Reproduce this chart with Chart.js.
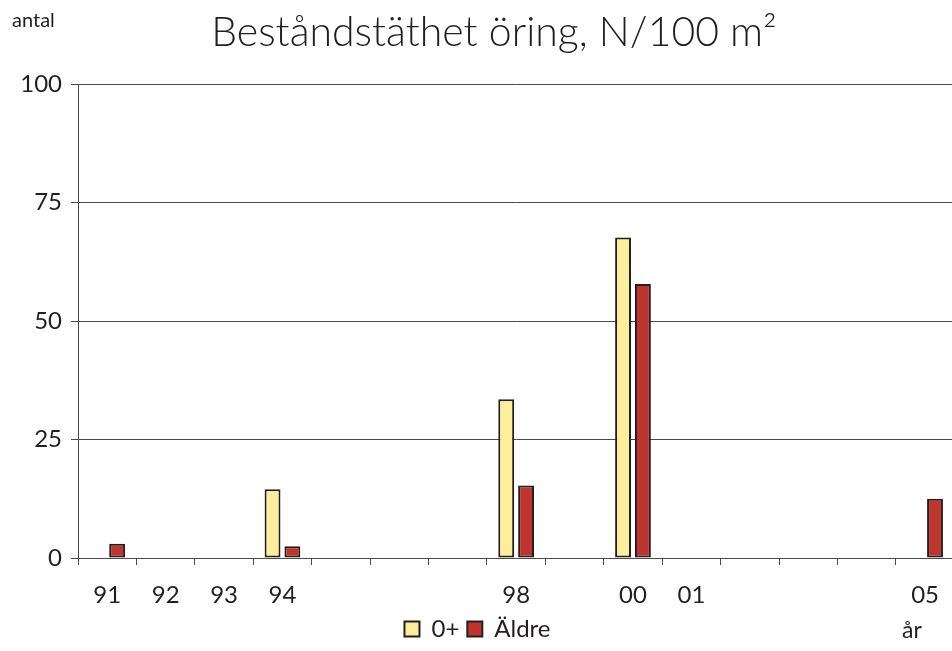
<!DOCTYPE html>
<html>
<head>
<meta charset="utf-8">
<script src="https://cdn.jsdelivr.net/npm/chart.js@4"></script>
<style>
  html, body { margin: 0; padding: 0; background: #fff; overflow: hidden; width: 952px; height: 651px; }
  canvas { display: block; }
</style>
</head>
<body>
<canvas id="c" width="955" height="651"></canvas>
<script>
const titleText = 'Beståndstäthet öring, N/100 m²';
const yAxisTitle = 'antal';
const xAxisTitle = 'år';
const categories = ['91','92','93','94','95','96','97','98','99','00','01','02','03','04','05'];
const tickLabels = ['91','92','93','94','','','','98','','00','01','','','','05'];
const seriesNames = ['0+', 'Äldre'];
const young = [null, null, null, 14.5, null, null, null, 33.5, null, 67.6, null, null, null, null, null];
const older = [3.0, null, null, 2.5, null, null, null, 15.3, null, 57.8, null, null, null, null, 12.5];
const yMin = 0, yMax = 100, yStep = 25;

const FONT = 'Lato, "Noto Sans", sans-serif';
const DARK = '#231f20';
const GRID = '#4a4a4a';

const textPlugin = {
  id: 'texts',
  afterDraw(chart) {
    const ctx = chart.ctx;
    ctx.save();
    ctx.fillStyle = DARK;
    ctx.textBaseline = 'alphabetic';
    ctx.font = '300 41px ' + FONT;
    ctx.textAlign = 'center';
    ctx.fillText(titleText, 494, 46);
    ctx.font = '20px ' + FONT;
    ctx.textAlign = 'left';
    ctx.fillText(yAxisTitle, 12, 27);
    ctx.font = '23px ' + FONT;
    ctx.fillText(xAxisTitle, 902, 638);
    ctx.restore();
  }
};

new Chart(document.getElementById('c'), {
  type: 'bar',
  data: {
    labels: categories,
    datasets: [
      { label: seriesNames[0], data: young, backgroundColor: '#fcee9a', borderColor: DARK, borderWidth: 2, borderSkipped: false },
      { label: seriesNames[1], data: older, backgroundColor: '#be3530', borderColor: DARK, borderWidth: 2, borderSkipped: false }
    ]
  },
  options: {
    responsive: false,
    animation: false,
    devicePixelRatio: 1,
    categoryPercentage: 0.68,
    barPercentage: 0.8,
    layout: { padding: { top: 84, left: 0, right: 0, bottom: 0 } },
    plugins: {
      title: { display: false },
      tooltip: { enabled: false },
      legend: {
        display: true,
        position: 'bottom',
        labels: {
          font: { family: FONT, size: 24 },
          color: DARK,
          boxWidth: 15,
          boxHeight: 15,
          padding: 8
        }
      }
    },
    scales: {
      x: {
        afterFit: s => { s.height = 51; },
        grid: { display: true, offset: true, drawOnChartArea: false, drawTicks: true, tickLength: 7, color: GRID, lineWidth: 1 },
        border: { display: true, color: GRID, width: 1 },
        ticks: {
          autoSkip: false,
          maxRotation: 0,
          padding: 16,
          color: DARK,
          font: { family: FONT, size: 24 },
          callback: (v, i) => tickLabels[i]
        }
      },
      y: {
        min: yMin,
        max: yMax,
        afterFit: s => { s.width = 78; },
        grid: { display: true, drawTicks: true, tickLength: 7, color: GRID, lineWidth: 1 },
        border: { display: true, color: GRID, width: 1 },
        ticks: {
          stepSize: yStep,
          padding: 9,
          color: DARK,
          font: { family: FONT, size: 24 }
        }
      }
    }
  },
  plugins: [textPlugin]
});
</script>
</body>
</html>
